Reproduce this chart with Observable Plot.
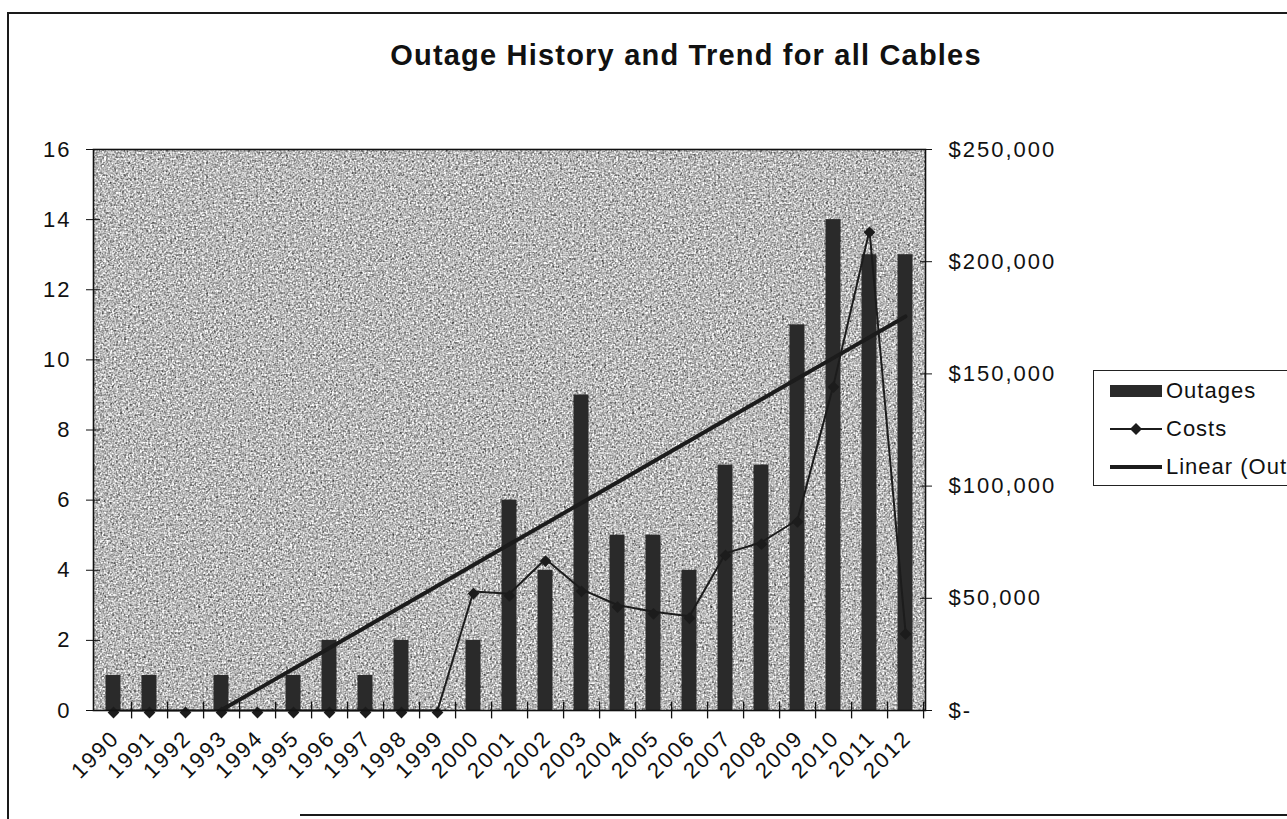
<!DOCTYPE html>
<html>
<head>
<meta charset="utf-8">
<script src="https://cdn.jsdelivr.net/npm/d3@7"></script>
<script src="https://cdn.jsdelivr.net/npm/@observablehq/plot@0.6"></script>
<style>
  html, body { margin: 0; padding: 0; background: #fff; overflow: hidden; }
  #page { position: relative; width: 1287px; height: 819px; overflow: hidden;
          font-family: "Liberation Sans", Arial, sans-serif; color: #111; background: #fff; }
  #chart { position: absolute; left: 0; top: 0; }
  .rule { position: absolute; background: #1a1a1a; }
  #title { position: absolute; left: 686px; top: 39px; transform: translateX(-50%);
           white-space: nowrap; font-weight: bold; font-size: 29px; letter-spacing: 1.2px; }
  #legend { position: absolute; left: 1093px; top: 370px; width: 300px; height: 114px;
            border: 1.5px solid #222; background: #fff; font-size: 22px; letter-spacing: 1px; }
  .item { position: absolute; left: 16px; height: 26px; display: flex; align-items: center; white-space: nowrap; }
  .item svg { margin-right: 4px; }
</style>
</head>
<body>
<div id="page">
  <div id="chart"></div>
  <div class="rule" style="left:7px;top:12px;width:2px;height:807px;"></div>
  <div class="rule" style="left:7px;top:12px;width:1280px;height:2px;"></div>
  <div class="rule" style="left:300px;top:814px;width:987px;height:2px;"></div>
  <div id="title">Outage History and Trend for all Cables</div>
  <div id="legend"></div>
</div>
<script>
// ---- data ----
const years = ["1990","1991","1992","1993","1994","1995","1996","1997","1998","1999","2000","2001",
               "2002","2003","2004","2005","2006","2007","2008","2009","2010","2011","2012"];
const outages = [1,1,0,1,0,1,2,1,2,0,2,6,4,9,5,5,4,7,7,11,14,13,13];
const costs = [0,0,0,0,0,0,0,0,0,0,53000,52000,67500,54000,47000,44000,42000,70000,75000,85000,145000,214000,35000];
const outageTicks = [0,2,4,6,8,10,12,14,16];
const costTicks = [0,50000,100000,150000,200000,250000];
const seriesNames = ["Outages", "Costs", "Linear (Outages)"];
const outageMax = 16, costMax = 250000;

// ---- layout ----
const W = 1287, H = 819, mL = 93, mR = 362, mT = 149, mB = 109;
const ink = "#1c1c1c";

const data = years.map((year, i) => ({year, outages: outages[i], cost: costs[i],
                                      costY: costs[i] / costMax * outageMax}));
// linear trend of outages (Excel "Linear" trendline)
const idx = d3.range(years.length);
const mx = d3.mean(idx), my = d3.mean(outages);
const slope = d3.sum(idx, i => (i - mx) * (outages[i] - my)) / d3.sum(idx, i => (i - mx) ** 2);
const icpt = my - slope * mx;
const trend = years.map((year, i) => ({year, fit: icpt + slope * i}));
const step = (W - mL - mR) / years.length;
const fmtCost = v => { const c = Math.round(v / outageMax * costMax); return c === 0 ? "$-" : "$" + d3.format(",")(c); };
const costPos = costTicks.map(c => c / costMax * outageMax);

const chart = Plot.plot({
  width: W, height: H,
  marginLeft: mL, marginRight: mR, marginTop: mT, marginBottom: mB,
  style: {fontFamily: '"Liberation Sans", Arial, sans-serif', fontSize: "22px", color: "#111",
          background: "transparent", letterSpacing: "2px", overflow: "visible"},
  x: {type: "band", domain: years, padding: 0},
  y: {domain: [0, outageMax]},
  marks: [
    Plot.frame({fill: "#b6b6b6", stroke: "none"}),
    Plot.barY(data, {x: "year", y: "outages", fill: "#2a2a2a", insetLeft: 10.5, insetRight: 10.5}),
    Plot.lineY(trend, {x: "year", y: "fit", stroke: ink, strokeWidth: 4, clip: true}),
    Plot.lineY(data, {x: "year", y: "costY", stroke: ink, strokeWidth: 2}),
    Plot.dot(data, {x: "year", y: "costY", symbol: "diamond2", r: 5.3, fill: ink, stroke: "none", dy: 2}),
    Plot.frame({stroke: "#111", strokeWidth: 1.6}),
    Plot.axisY(outageTicks, {anchor: "left", tickSize: 0, tickPadding: 22, label: null}),
    Plot.axisY(outageTicks, {anchor: "left", tickSize: 14, insetLeft: 7, tickFormat: () => "", label: null, stroke: "#111"}),
    Plot.axisY(costPos, {anchor: "right", tickSize: 0, tickPadding: 23, textAnchor: "start", tickFormat: fmtCost, label: null}),
    Plot.axisY(costPos, {anchor: "right", tickSize: 12, insetRight: 6, tickFormat: () => "", label: null, stroke: "#111"}),
    Plot.axisX({tickSize: 0, tickRotate: -45, tickPadding: 12, dy: 12, dx: 2, label: null}),
    Plot.ruleX(years, {x: d => d, dx: step / 2, y1: -0.24, y2: 0.24, stroke: "#111", strokeWidth: 1.3})
  ]
});

// scanned-paper grain on the plot area background
const svgNS = "http://www.w3.org/2000/svg";
const defs = document.createElementNS(svgNS, "defs");
defs.innerHTML = `
<filter id="grain" x="0" y="0" width="1" height="1" color-interpolation-filters="sRGB">
  <feTurbulence type="fractalNoise" baseFrequency="0.5" numOctaves="2" seed="7" result="t"/>
  <feColorMatrix in="t" type="matrix" values="0.33 0.33 0.33 0 0  0.33 0.33 0.33 0 0  0.33 0.33 0.33 0 0  0 0 0 0 1" result="g"/>
  <feComponentTransfer in="g" result="c">
    <feFuncR type="linear" slope="2.0" intercept="-0.27"/>
    <feFuncG type="linear" slope="2.0" intercept="-0.27"/>
    <feFuncB type="linear" slope="2.0" intercept="-0.27"/>
  </feComponentTransfer>
  <feComposite in="c" in2="SourceGraphic" operator="in"/>
</filter>`;
chart.insertBefore(defs, chart.firstChild);
const bg = chart.querySelector('g[aria-label="frame"] rect, rect[aria-label="frame"]') || chart.querySelector('[aria-label="frame"]');
if (bg) bg.setAttribute("filter", "url(#grain)");
document.getElementById("chart").appendChild(chart);

// legend
const legend = document.getElementById("legend");
const sw = [
  `<svg width="52" height="14"><rect x="0" y="1" width="52" height="12" fill="#2a2a2a"/></svg>`,
  `<svg width="52" height="14"><line x1="0" y1="7" x2="52" y2="7" stroke="${ink}" stroke-width="2"/><path d="M26,1 L32,7 L26,13 L20,7 Z" fill="${ink}"/></svg>`,
  `<svg width="52" height="14"><line x1="0" y1="7" x2="52" y2="7" stroke="${ink}" stroke-width="4"/></svg>`
];
const tops = [7, 45, 83];
seriesNames.forEach((name, i) => {
  const el = document.createElement("div");
  el.className = "item";
  el.style.top = tops[i] + "px";
  el.innerHTML = sw[i] + `<span>${name}</span>`;
  legend.appendChild(el);
});
</script>
</body>
</html>
